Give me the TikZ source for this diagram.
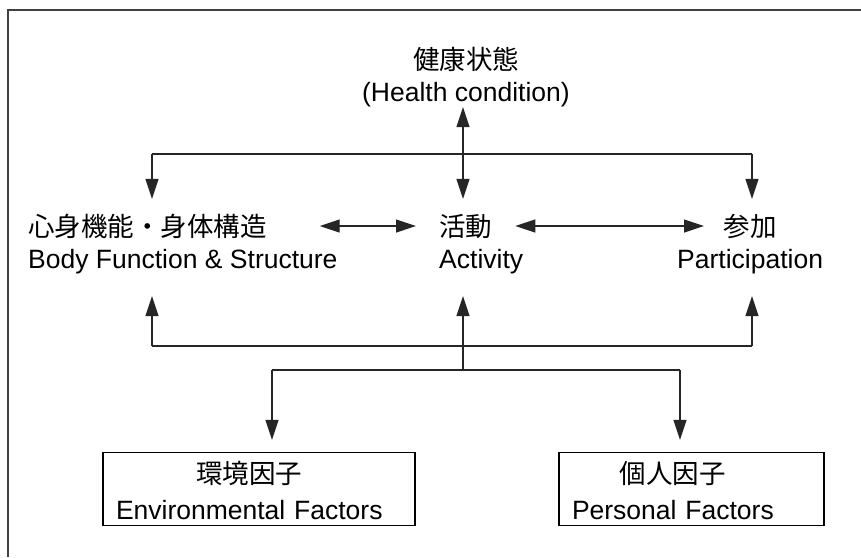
\documentclass[tikz,border=0pt]{standalone}
\usepackage{fontspec}
\setmainfont{Liberation Sans}
\newfontfamily\jp{Noto Sans CJK JP}
\usetikzlibrary{arrows.meta,positioning}

\tikzset{
  lbl/.style={font=\fontsize{26.5}{32}\selectfont, inner sep=0pt},
  rowlbl/.style={lbl, anchor=west, inner ysep=15pt},
  factor/.style={lbl, draw, line width=1.3pt, minimum height=73pt, text height=49pt, text depth=24pt, inner xsep=13pt, align=left},
  conn/.style={line width=1.2pt, draw=black!85},
  arr/.style={conn, -{Triangle[width=13pt,length=20pt]}},
  biarr/.style={conn, {Triangle[width=13pt,length=20pt]}-{Triangle[width=13pt,length=20pt]}},
}

\begin{document}
\begin{tikzpicture}[x=1pt,y=-1pt]
\useasboundingbox (0,0) rectangle (861,557);
% outer frame, cut off at right and bottom
\draw[line width=1.5pt, black!75] (8,557) -- (8,10) -- (861,10);

% labels
\node[lbl, align=center] (hc) at (466,77) {{\jp 健康状態}\\(Health condition)};
\node[rowlbl, align=left] (body) at (28,244) {{\jp 心身機能・身体構造}\\Body Function \& Structure};
\node[rowlbl, align=left] (act) at (439,244) {{\jp 活動}\\Activity};
\node[rowlbl, align=center] (part) at (677,244) {{\jp 参加}\\Participation};

% factor boxes
\node[factor, text width=286pt] (env) at (259,489)
  {\begin{tabular}{@{}c@{}}{\jp 環境因子}\\[4pt]Environmental Factors\end{tabular}};
\node[factor, text width=239pt] (pers) at (691.5,489)
  {\begin{tabular}{@{}c@{}}{\jp 個人因子}\\[4pt]Personal Factors\end{tabular}};

% bus lines
\coordinate (tl) at (152,154);
\coordinate (tr) at (752,154);
\coordinate (bl) at (152,346);
\coordinate (bm) at (463,346);
\coordinate (br) at (752,346);
\coordinate (sm) at (463,370);
\coordinate (sl) at (272,370);
\coordinate (sr) at (680,370);

\draw[biarr] (hc.south -| bm) -- (act.north -| bm);
\draw[conn] (tl) -- (tr);
\draw[arr] (tl) -- (tl |- body.north);
\draw[arr] (tr) -- (tr |- part.north);

\draw[biarr] ([shift={(-18,-18)}]body.east) -- ([shift={(-23,-18)}]act.west);
\draw[biarr] ([shift={(-8,-18)}]act.east) -- ([shift={(27,-18)}]part.west);

\draw[conn] (bl) -- (br);
\draw[arr, shorten >=7pt] (bl) -- (bl |- body.south);
\draw[arr, shorten >=7pt] (bm) -- (bm |- act.south);
\draw[arr, shorten >=7pt] (br) -- (br |- part.south);

\draw[conn] (bm) -- (sm);
\draw[conn] (sl) -- (sr);
\draw[arr, shorten >=12pt] (sl) -- (sl |- env.north);
\draw[arr, shorten >=12pt] (sr) -- (sr |- pers.north);
\end{tikzpicture}
\end{document}
